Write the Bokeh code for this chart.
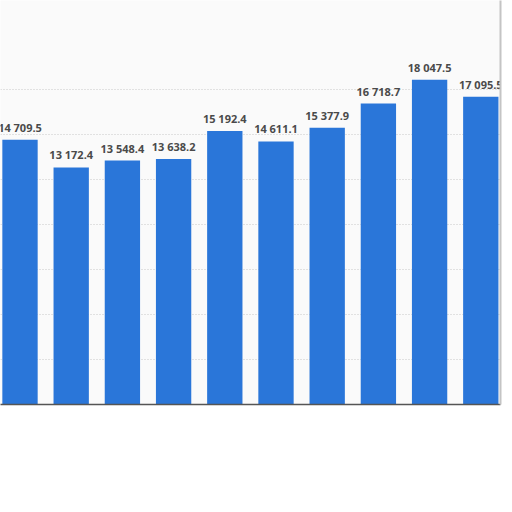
from bokeh.plotting import figure
from bokeh.models import ColumnDataSource, Range1d, FixedTicker, LinearAxis
from bokeh.embed import file_html
from bokeh.resources import INLINE
from bokeh.core.properties import value

# Data (the category labels are cut off in the reference)
positions = [0, 1, 2, 3, 4, 5, 6, 7, 8, 9]
values = [14709.5, 13172.4, 13548.4, 13638.2, 15192.4, 14611.1, 15377.9, 16718.7, 18047.5, 17095.5]
grid_ticks = [0, 2500, 5000, 7500, 10000, 12500, 15000, 17500]

labels = [f"{v:,.1f}".replace(",", " ") for v in values]
src = ColumnDataSource(dict(x=positions, top=values, label=labels))

p = figure(width=504, height=504, output_backend="svg", toolbar_location=None,
           x_range=Range1d(-0.381, 9.385), y_range=Range1d(0, 22444),
           min_border_left=0, min_border_top=0, min_border_right=4, min_border_bottom=100)

p.background_fill_color = "#fafafa"
p.border_fill_color = "white"
p.outline_line_color = None

p.vbar(x="x", top="top", width=0.69, source=src, fill_color="#2a76d9", line_color=None)
p.text(x="x", y="top", text="label", source=src, text_align="center",
       text_baseline="bottom", y_offset=-5, text_font=value("Open Sans"),
       text_font_style="bold", text_font_size="11px", text_color="#4a4a4a")

p.xaxis.visible = False
p.yaxis.visible = False
p.xgrid.visible = False
p.ygrid.ticker = FixedTicker(ticks=grid_ticks)
p.ygrid.grid_line_color = "#c8c8c8"
p.ygrid.grid_line_dash = "1 2"
p.ygrid.grid_line_width = 1

bottom = LinearAxis(ticker=FixedTicker(ticks=[]), major_label_text_font_size="0px",
                    major_tick_line_color=None, minor_tick_line_color=None,
                    axis_line_color="#555555", axis_line_width=1.5)
p.add_layout(bottom, "below")
right = LinearAxis(ticker=FixedTicker(ticks=[]), major_label_text_font_size="0px",
                   major_tick_line_color=None, minor_tick_line_color=None,
                   axis_line_color="#c4c4c4", axis_line_width=2)
p.add_layout(right, "right")

open("out.html", "w").write(file_html(p, INLINE))
